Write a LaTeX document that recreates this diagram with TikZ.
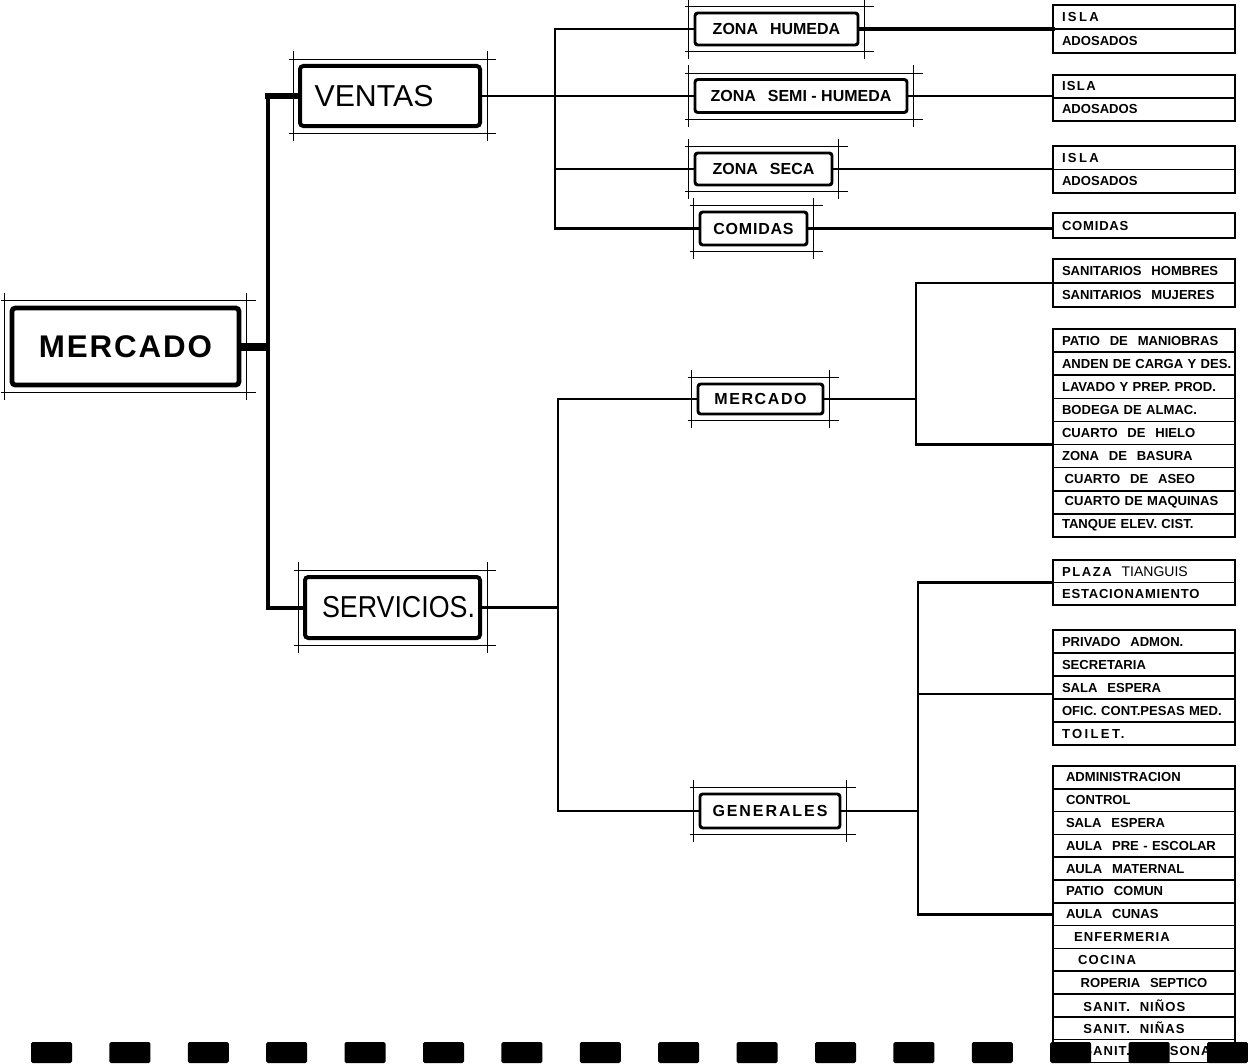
\documentclass[tikz,border=0pt]{standalone}
\usepackage{fontspec}
\setmainfont{Liberation Sans}
\usepackage{graphicx}
\usetikzlibrary{calc}
\newcommand\rowfont{\fontsize{9.8}{11}\selectfont\bfseries}
\newcommand\midfont{\fontsize{12}{14}\selectfont\bfseries}
\newcommand\lsp[2]{{\addfontfeature{LetterSpace=#1}#2}}
\newcommand\wsp{\hspace{0.75em}}
\newcommand\nodeframe[1]{%
  \draw[thinln] let \p1=($(#1.north west)+(-5,-5)$), \p2=($(#1.south east)+(5,5)$) in
    (\x1-3pt,\y1) -- (\x2+7pt,\y1)
    (\x1-3pt,\y2) -- (\x2+7pt,\y2)
    (\x1,\y1+6pt) -- (\x1,\y2-6pt)
    (\x2,\y1+6pt) -- (\x2,\y2-6pt);}
\begin{document}
\begin{tikzpicture}[x=0.75pt,y=-0.75pt,
  px/.style 2 args={minimum width=#1*0.75pt, minimum height=#2*0.75pt},
  bigbox/.style={draw, line width=3pt, rounded corners=2.5pt, inner sep=0pt},
  midbox/.style={draw, line width=2.2pt, rounded corners=2pt, inner sep=0pt, font=\midfont},
  thinln/.style={line width=0.7pt},
  link/.style={line width=2.2pt, line cap=rect},
  lrow/.style={draw, line width=1.2pt, anchor=north west, outer sep=0pt, inner xsep=3.75pt, inner ysep=0pt,
    text width=129pt, align=left, minimum height=#1*0.75pt, font=\rowfont,
    execute at begin node={\hspace*{3pt}}},
  lrow/.default=23]
\useasboundingbox (0,0) rectangle (1248,1063);

% ---------- main nodes
\node[bigbox, line width=3.6pt, px={227}{77}, font=\fontsize{23.5}{27}\selectfont\bfseries] (mercado) at (125.5,346.5) {\lsp{6}{MERCADO}};
\node[bigbox, px={180}{60}, font=\fontsize{22.7}{26}\selectfont] (ventas) at (390,96) {VENTAS\hspace*{24pt}};
\node[bigbox, px={175}{61}, font=\fontsize{22.7}{26}\selectfont] (servicios) at (392.5,607.5) {\hspace*{9pt}\resizebox{114.75pt}{\height}{SERVICIOS.}};

% ---------- middle nodes
\node[midbox, px={163}{32}] (humeda) at (776.5,29) {ZONA\wsp HUMEDA};
\node[midbox, px={212}{33}] (semi) at (801,96) {ZONA\wsp SEMI - HUMEDA};
\node[midbox, px={137}{32}] (seca) at (763.5,169) {ZONA\wsp SECA};
\node[midbox, px={107}{33}] (comidas) at (753.5,228.5) {\lsp{5}{COMIDAS}};
\node[midbox, px={125}{30}] (msub) at (760.5,399) {\lsp{10}{MERCADO}};
\node[midbox, px={140}{34}] (gen) at (770,811) {\lsp{12}{GENERALES}};

\foreach \nm in {mercado,ventas,servicios,humeda,semi,seca,comidas,msub,gen} {\nodeframe{\nm}}

% ---------- lists
\node[lrow=24] (l1a) at (1053,5) {\lsp{18}{ISLA}};
\node[lrow=24] (l1b) at (l1a.south west) {ADOSADOS};
\node[lrow] (l2a) at (1053,75) {\lsp{10}{ISLA}};
\node[lrow] (l2b) at (l2a.south west) {ADOSADOS};
\node[lrow=23.5] (l3a) at (1053,146) {\lsp{18}{ISLA}};
\node[lrow=23.5] (l3b) at (l3a.south west) {ADOSADOS};
\node[lrow=25] (l4a) at (1053,213) {\lsp{6}{COMIDAS}};

\node[lrow=24] (lA1) at (1053,259) {\mbox{SANITARIOS\wsp HOMBRES}};
\node[lrow=24] (lA2) at (lA1.south west) {\mbox{SANITARIOS\wsp MUJERES}};

\node[lrow=23.1] (lB1) at (1053,329) {\mbox{PATIO\wsp DE\wsp MANIOBRAS}};
\node[lrow=23.1] (lB2) at (lB1.south west) {\mbox{ANDEN DE CARGA Y DES.}};
\node[lrow=23.1] (lB3) at (lB2.south west) {\mbox{LAVADO Y PREP. PROD.}};
\node[lrow=23.1] (lB4) at (lB3.south west) {BODEGA DE ALMAC.};
\node[lrow=23.1] (lB5) at (lB4.south west) {CUARTO\wsp DE\wsp HIELO};
\node[lrow=23.1] (lB6) at (lB5.south west) {ZONA\wsp DE\wsp BASURA};
\node[lrow=23.1] (lB7) at (lB6.south west) {\hspace*{2pt}CUARTO\wsp DE\wsp ASEO};
\node[lrow=23.1] (lB8) at (lB7.south west) {\mbox{\hspace*{2pt}CUARTO DE MAQUINAS}};
\node[lrow=23.1] (lB9) at (lB8.south west) {TANQUE ELEV. CIST.};

\node[lrow=22.5] (lC1) at (1053,560) {\lsp{12}{PLAZA}\wsp{\mdseries\fontsize{10.5}{12}\selectfont TIANGUIS}};
\node[lrow=22.5] (lC2) at (lC1.south west) {\lsp{6}{ESTACIONAMIENTO}};

\node[lrow] (lD1) at (1053,630) {PRIVADO\wsp ADMON.};
\node[lrow] (lD2) at (lD1.south west) {SECRETARIA};
\node[lrow] (lD3) at (lD2.south west) {SALA\wsp ESPERA};
\node[lrow] (lD4) at (lD3.south west) {\mbox{OFIC. CONT.PESAS MED.}};
\node[lrow] (lD5) at (lD4.south west) {\lsp{18}{TOILET.}};

\node[lrow=22.8] (lE1) at (1053,766) {\hspace*{3pt}ADMINISTRACION};
\node[lrow=22.8] (lE2) at (lE1.south west) {\hspace*{3pt}CONTROL};
\node[lrow=22.8] (lE3) at (lE2.south west) {\hspace*{3pt}SALA\wsp ESPERA};
\node[lrow=22.8] (lE4) at (lE3.south west) {\mbox{\hspace*{3pt}AULA\wsp PRE - ESCOLAR}};
\node[lrow=22.8] (lE5) at (lE4.south west) {\hspace*{3pt}AULA\wsp MATERNAL};
\node[lrow=22.8] (lE6) at (lE5.south west) {\hspace*{3pt}PATIO\wsp COMUN};
\node[lrow=22.8] (lE7) at (lE6.south west) {\hspace*{3pt}AULA\wsp CUNAS};
\node[lrow=22.8] (lE8) at (lE7.south west) {\hspace*{9pt}\lsp{8}{ENFERMERIA}};
\node[lrow=22.8] (lE9) at (lE8.south west) {\hspace*{12pt}\lsp{10}{COCINA}};
\node[lrow=22.8] (lE10) at (lE9.south west) {\mbox{\hspace*{14pt}ROPERIA\wsp SEPTICO}};
\node[lrow=22.8] (lE11) at (lE10.south west) {\hspace*{16pt}\lsp{8}{SANIT.\wsp NIÑOS}};
\node[lrow=22.8] (lE12) at (lE11.south west) {\hspace*{16pt}\lsp{8}{SANIT.\wsp NIÑAS}};
\node[lrow=22.8] (lE13) at (lE12.south west) {\mbox{\hspace*{16pt}\lsp{8}{SANIT.\wsp PERSONAL}}};

% ---------- connectors
\coordinate (xA) at (268,0);
\coordinate (xB) at (555,0);
\coordinate (xE) at (558,0);
\coordinate (xC) at (916,0);
\coordinate (xD) at (918,0);

\draw[link, line width=3pt] (ventas.west -| xA) -- (servicios.west -| xA);
\draw[line width=6pt] (mercado.east) -- (mercado.east -| xA);
\draw[line width=4.5pt, line cap=rect] (ventas.west -| xA) -- (ventas.west);
\draw[link, line width=3pt] (servicios.west -| xA) -- (servicios.west);

\draw[link] (ventas.east) -- (ventas.east -| xB);
\draw[link] (humeda.west -| xB) -- (comidas.west -| xB);
\foreach \nm in {humeda,semi,seca,comidas} {\draw[link] (\nm.west -| xB) -- (\nm.west);}
\draw[link, line width=3pt] (humeda.east) -- (humeda.east -| l1a.west);
\draw[link] (semi.east) -- (semi.east -| l2a.west);
\draw[link] (seca.east) -- (seca.east -| l3a.west);
\draw[link] (comidas.east) -- (comidas.east -| l4a.west);

\draw[link] (servicios.east) -- (servicios.east -| xE);
\draw[link] (msub.west -| xE) -- (gen.west -| xE);
\draw[link] (msub.west -| xE) -- (msub.west);
\draw[link] (gen.west -| xE) -- (gen.west);

\draw[link] (msub.east) -- (msub.east -| xC);
\draw[link] (lA1.south west -| xC) -- (lB5.south west -| xC);
\draw[link] (lA1.south west -| xC) -- (lA1.south west);
\draw[link] (lB5.south west -| xC) -- (lB5.south west);

\coordinate (dIn) at ($(lD3.south west)+(0,-5)$);
\draw[link] (gen.east) -- (gen.east -| xD);
\draw[link] (lC1.south west -| xD) -- (lE7.west -| xD);
\draw[link] (lC1.south west -| xD) -- (lC1.south west);
\draw[link] (dIn -| xD) -- (dIn);
\draw[link] (lE7.west -| xD) -- (lE7.west);

% ---------- bottom dashed band
\foreach \i in {0,...,15} {\fill[rounded corners=1.2pt] ({31+78.4*\i},1042) rectangle ++(41,21);}
\end{tikzpicture}
\end{document}
